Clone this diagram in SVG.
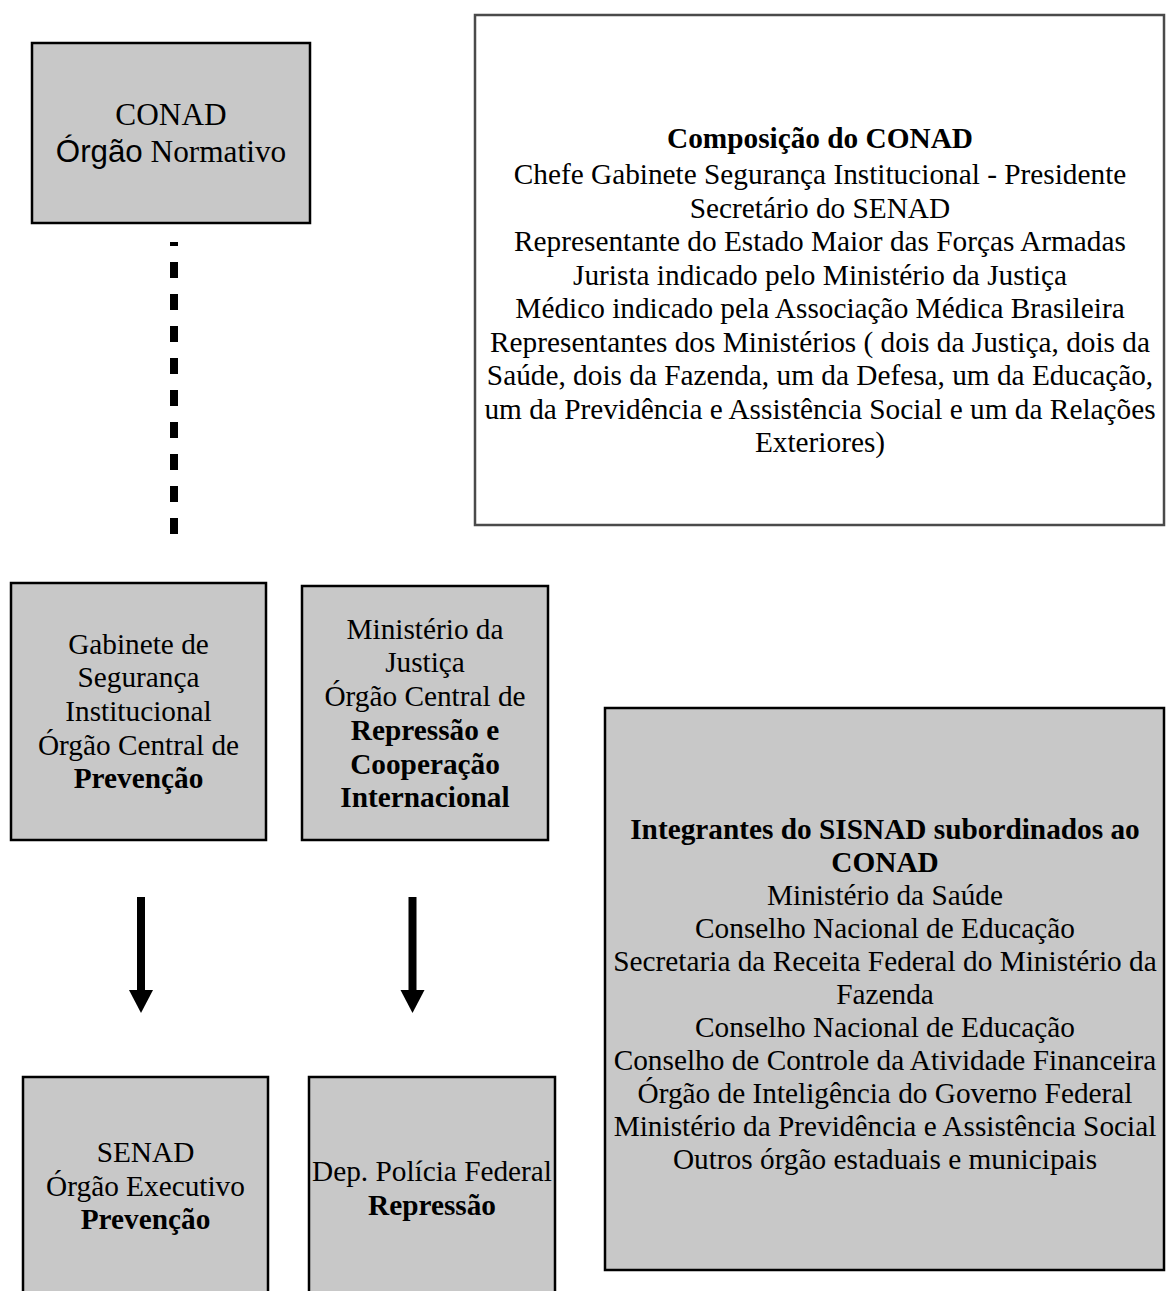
<svg xmlns="http://www.w3.org/2000/svg" width="1166" height="1291" viewBox="0 0 1166 1291">
<style>
.box{fill:#c8c8c8;stroke:#000;stroke-width:2.5}
.wbox{fill:#fff;stroke:#4a4a4a;stroke-width:2.5}
text{font-family:"Liberation Serif","Times New Roman",serif;font-size:29.3px;fill:#000;text-anchor:middle}
.b{font-weight:bold}
.big{font-size:31.3px}
.sans{font-family:"Liberation Sans",Arial,sans-serif}
</style>
<rect width="1166" height="1291" fill="#fff"/>
<g id="conad">
<rect class="box" x="32" y="43" width="278" height="180"/>
<text class="big" x="171" y="125">CONAD</text>
<text class="big" x="171" y="162"><tspan class="sans">Órgão</tspan> Normativo</text>
</g>
<g id="composicao">
<rect class="wbox" x="475" y="15" width="689" height="510"/>
<text class="b" x="820" y="148">Composição do CONAD</text>
<text x="820" y="184">Chefe Gabinete Segurança Institucional - Presidente</text>
<text x="820" y="217.5">Secretário do SENAD</text>
<text x="820" y="251">Representante do Estado Maior das Forças Armadas</text>
<text x="820" y="284.5">Jurista indicado pelo Ministério da Justiça</text>
<text x="820" y="318">Médico indicado pela Associação Médica Brasileira</text>
<text x="820" y="351.5">Representantes dos Ministérios ( dois da Justiça, dois da</text>
<text x="820" y="385">Saúde, dois da Fazenda, um da Defesa, um da Educação,</text>
<text x="820" y="418.5">um da Previdência e Assistência Social e um da Relações</text>
<text x="820" y="452">Exteriores)</text>
</g>
<g id="gabinete">
<rect class="box" x="11" y="583" width="255" height="257"/>
<text x="138.5" y="653.6">Gabinete de</text>
<text x="138.5" y="687.3">Segurança</text>
<text x="138.5" y="721">Institucional</text>
<text x="138.5" y="754.7">Órgão Central de</text>
<text class="b" x="138.5" y="788.4">Prevenção</text>
</g>
<g id="ministerio">
<rect class="box" x="302" y="586" width="246" height="254"/>
<text x="425" y="638.7">Ministério da</text>
<text x="425" y="672.4">Justiça</text>
<text x="425" y="706.1">Órgão Central de</text>
<text class="b" x="425" y="739.8">Repressão e</text>
<text class="b" x="425" y="773.5">Cooperação</text>
<text class="b" x="425" y="807.2">Internacional</text>
</g>
<g id="integrantes">
<rect class="box" x="605" y="708" width="559" height="562"/>
<text class="b" x="885" y="839">Integrantes do SISNAD subordinados ao</text>
<text class="b" x="885" y="872">CONAD</text>
<text x="885" y="905">Ministério da Saúde</text>
<text x="885" y="938">Conselho Nacional de Educação</text>
<text x="885" y="971">Secretaria da Receita Federal do Ministério da</text>
<text x="885" y="1004">Fazenda</text>
<text x="885" y="1037">Conselho Nacional de Educação</text>
<text x="885" y="1070">Conselho de Controle da Atividade Financeira</text>
<text x="885" y="1103">Órgão de Inteligência do Governo Federal</text>
<text x="885" y="1136">Ministério da Previdência e Assistência Social</text>
<text x="885" y="1169">Outros órgão estaduais e municipais</text>
</g>
<g id="senad">
<rect class="box" x="23" y="1077" width="245" height="240"/>
<text x="145.5" y="1162">SENAD</text>
<text x="145.5" y="1196">Órgão Executivo</text>
<text class="b" x="145.5" y="1229">Prevenção</text>
</g>
<g id="policia">
<rect class="box" x="309" y="1077" width="246" height="240"/>
<text x="432" y="1181">Dep. Polícia Federal</text>
<text class="b" x="432" y="1215">Repressão</text>
</g>
<g id="connectors">
<line x1="174" y1="242" x2="174" y2="534" stroke="#000" stroke-width="8" stroke-dasharray="16 16" stroke-dashoffset="12"/>
<rect x="137" y="897" width="8" height="94" fill="#000"/>
<polygon points="129,990 153,990 141,1013" fill="#000"/>
<rect x="408.5" y="897" width="8" height="94" fill="#000"/>
<polygon points="400.5,990 424.5,990 412.5,1013" fill="#000"/>
</g>
</svg>
